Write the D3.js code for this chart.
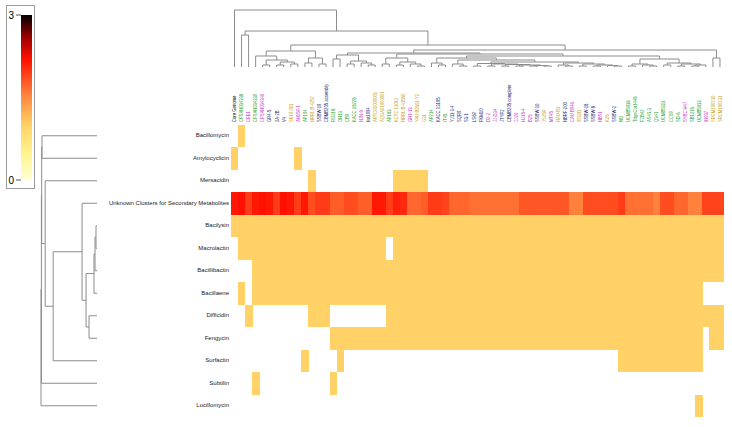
<!DOCTYPE html>
<html>
<head>
<meta charset="utf-8">
<script src="https://cdn.jsdelivr.net/npm/d3@7"></script>
<style>
  body { margin: 0; background: #fff; }
  text { font-family: "Liberation Sans", Arial, sans-serif; }
  .dendro { fill: none; stroke: #8c8c8c; stroke-width: 1; }
</style>
</head>
<body>
<div id="wrapper"></div>
<script>
// data
const rowNames = [
  "Bacillomycin", "Amylocyclicin", "Mersacidin", "Unknown Clusters for Secondary Metabolites",
  "Bacilysin", "Macrolactin", "Bacillibactin", "Bacillaene", "Difficidin",
  "Fengycin", "Surfactin", "Subtilin", "Locillomycin"
]
const colNames = [
  "Core Genome", "CFSAN034338", "CEE1", "CFSAN034339", "CFSAN034340", "GR4-5", "2A-2B", "V4",
  "SK19.001", "AH159-1", "AP194", "NRRL B-4257", "SSBW-19", "CBMB205 assembly", "RO218", "OH13",
  "CB9", "KACC 18228", "NJN-6", "kst1994", "ARTO01000001", "AQGA01000001", "AP183", "KCTC 13012",
  "NRRL B-41580", "GH1-13", "YAU B9601-Y2", "G31", "AP214", "KACC 13105", "IT45", "YJ11-1-4",
  "SQR9", "S3-1", "LS69", "FKM10", "D2-2", "JJ-D34", "JTYP2", "CBMB205 complete", "ZJ20",
  "HJ18-4", "B25", "SSBW-10", "JS25R", "MT45", "NAU-B3", "NBRF-200", "CAU B946", "9912D",
  "SSBW-18", "SSBW-8", "NBS1", "K26", "SSBW-2", "W2", "UCMB5036", "TrigoCor1448", "FZB42",
  "AS43.3", "Q341", "UCMB5113", "CC09", "SD-6", "SYBC H47", "SB1216", "UCMB5033", "IN937",
  "SRCM100730", "SRCM100731"
]
// k = core, g / m / b / y = label colour groups
const colGroups = [
  "k","g","m","g","m","b","b","b","y","m","g","y","b","b","g","g","g","g","m","b",
  "y","y","g","y","y","m","y","y","g","b","g","b","b","b","b","b","m","m","b","b",
  "m","m","m","b","y","m","y","b","m","y","b","b","m","y","b","g","g","g","g","g",
  "g","g","g","g","m","g","g","m","y","y"
]
// column ranges where a cluster is present (value 1)
const presentRanges = [
  [[1, 1]],
  [[0, 0], [9, 9]],
  [[11, 11], [23, 27]],
  [],
  [[0, 69]],
  [[1, 21], [23, 69]],
  [[3, 69]],
  [[1, 1], [3, 66]],
  [[2, 2], [11, 13], [22, 69]],
  [[14, 66], [68, 69]],
  [[10, 10], [15, 15], [55, 66]],
  [[3, 3], [14, 14]],
  [[66, 66]]
]
const unknownRow = 3
const unknownValues = [
  2.15, 2.2, 1.95, 2.15, 2.2, 2.15, 1.95, 2.2, 2.15, 1.95,
  2.15, 1.85, 1.95, 1.95, 1.75, 1.75, 1.85, 1.85, 1.75, 1.75,
  2.15, 2.15, 1.95, 2.1, 2.05, 1.7, 1.7, 1.75, 1.95, 1.95,
  1.9, 1.7, 1.7, 1.7, 1.65, 1.65, 1.65, 1.65, 1.65, 1.65,
  1.65, 1.8, 1.8, 1.8, 1.8, 1.8, 1.8, 1.8, 1.55, 1.55,
  1.85, 1.85, 1.85, 1.85, 1.85, 1.95, 1.65, 1.65, 1.65, 1.65,
  1.55, 1.85, 1.85, 1.7, 1.7, 1.55, 1.55, 1.9, 1.9, 1.9
]
const legendStops = [0, 0.5, 1, 1.5, 2.2, 2.6, 3]
const legendColors = ["#FFFFD0", "#FFF38C", "#FFD166", "#FF8A40", "#FF1000", "#9A0000", "#000000"]
const legendTicks = [0, 3]
const groupColors = { k: "#000000", g: "#2CA02C", m: "#C23BC2", b: "#2B2F7A", y: "#C9A227" }

// dendrograms: [left, right, height]
const rowTree = [[[[0, 1, 55.2],
  [2, [[3, [[[[4, 5, 1], 6, 2], 7, 3], [8, 9, 8], 11], 15], 10, 44], 52], 55.5], 11, 55.8], 12, 56.2]

const colLeft = [[3, [[4, 5, 2], [[6, 7, 2], [8, 9, 3], 5], 7], 11], [[10, 11, 4], [12, 13, 3], 9], 16]
const colMid = [[14, 15, 8], [[16, 17, 3], [18, [19, 20, 2], 4], 6], 12]
const colR1 = [[21, 22, 3], [[23, 24, 2], [25, [26, 27, 1], 3], 5], 9]
const colP = [[34, 35, 1], [[36, 37, 1], [[38, 39, 1], [[40, 41, 1], [[42, 43, 1], [44, 45, 1], 1.5], 2], 2.5], 3], 3.5]
const colQ = [[46, [47, 48, 1], 2], [[49, 50, 1], [[51, 52, 1], [53, [54, 55, 1], 1.5], 2], 3], 4]
const colR2a = [[28, [29, 30, 2], 4], [[31, [32, 33, 1], 3], [colP, colQ, 5], 7], 9]
const colR2b = [[[56, 57, 1], [58, [59, 60, 1], 2], 3], [[61, 62, 2], [[63, 64, 1], [[65, 66, 1], 67, 2], 3], 4], 8]
const colTree = [0, [[1, 2, 32],
  [colLeft, [[colMid, [colR1, [colR2a, colR2b, 11], 13], 14], [68, 69, 9], 17], 22], 36], 57]

// dimensions
const dims = {
  width: 732, height: 427,
  heatLeft: 231, heatRight: 723.5, heatTop: 124.5, heatBottom: 417,
}

const svg = d3.select("#wrapper").append("svg")
  .attr("width", dims.width)
  .attr("height", dims.height)

// scales
const xScale = d3.scaleBand()
  .domain(d3.range(colNames.length))
  .range([dims.heatLeft, dims.heatRight])
const yScale = d3.scaleBand()
  .domain(d3.range(rowNames.length))
  .range([dims.heatTop, dims.heatBottom])
const colorScale = d3.scaleLinear()
  .domain(legendStops)
  .range(legendColors)

// cells
const cells = []
rowNames.forEach((name, r) => {
  if (r == unknownRow) {
    unknownValues.forEach((v, c) => cells.push({ r, c, v }))
    return
  }
  presentRanges[r].forEach(([a, b]) => {
    d3.range(a, b + 1).forEach(c => cells.push({ r, c, v: 1 }))
  })
})

svg.append("g").selectAll("rect")
  .data(cells)
  .join("rect")
    .attr("x", d => xScale(d.c))
    .attr("y", d => yScale(d.r))
    .attr("width", xScale.bandwidth() + 0.4)
    .attr("height", yScale.bandwidth() + 0.4)
    .attr("fill", d => colorScale(d.v))
    .attr("shape-rendering", "crispEdges")

// row labels
svg.append("g").selectAll("text")
  .data(rowNames)
  .join("text")
    .attr("x", dims.heatLeft - 2)
    .attr("y", (d, i) => yScale(i) + yScale.bandwidth() / 2)
    .attr("text-anchor", "end")
    .attr("dominant-baseline", "middle")
    .attr("font-size", 6)
    .attr("fill", "#222")
    .text(d => d)

// column labels (squeezed along the text direction)
svg.append("g").selectAll("text")
  .data(colNames)
  .join("text")
    .attr("transform", (d, i) => `translate(${xScale(i) + xScale.bandwidth() / 2 + 1.8}, 122) rotate(-90) scale(0.84, 1)`)
    .attr("font-size", 5)
    .attr("fill", (d, i) => groupColors[colGroups[i]])
    .text(d => d)

// dendrograms
function drawTree(node, g, leafPos, hScale, vertical) {
  if (typeof node == "number") return { pos: leafPos(node), h: 0 }
  const l = drawTree(node[0], g, leafPos, hScale, vertical)
  const r = drawTree(node[1], g, leafPos, hScale, vertical)
  const h = node[2]
  const d = vertical
    ? `M${l.pos},${hScale(l.h)}V${hScale(h)}H${r.pos}V${hScale(r.h)}`
    : `M${hScale(l.h)},${l.pos}H${hScale(h)}V${r.pos}H${hScale(r.h)}`
  g.append("path").attr("class", "dendro").attr("d", d)
  return { pos: (l.pos + r.pos) / 2, h }
}

const colHeight = d3.scaleLinear().domain([0, 57]).range([67, 10])
drawTree(colTree, svg.append("g"), i => xScale(i) + xScale.bandwidth() / 2, colHeight, true)

const rowHeight = d3.scaleLinear().domain([0, 56.2]).range([97, 41])
drawTree(rowTree, svg.append("g"), i => yScale(i) + yScale.bandwidth() / 2, rowHeight, false)

// legend
const legend = svg.append("g")
legend.append("rect")
  .attr("x", 6.5).attr("y", 5.5)
  .attr("width", 28).attr("height", 183)
  .attr("fill", "none").attr("stroke", "#9a9a9a")
const grad = svg.append("defs").append("linearGradient")
  .attr("id", "legend-grad")
  .attr("x1", 0).attr("x2", 0).attr("y1", 1).attr("y2", 0)
const legendScale = d3.scaleLinear().domain([0, 3]).range([180, 15])
d3.range(0, 3.01, 0.1).forEach(v => {
  grad.append("stop").attr("offset", v / 3).attr("stop-color", colorScale(v))
})
legend.append("rect")
  .attr("x", 21).attr("y", legendScale(3))
  .attr("width", 11).attr("height", legendScale(0) - legendScale(3))
  .attr("fill", "url(#legend-grad)")
legend.selectAll(".tick-line")
  .data(legendTicks)
  .join("line")
    .attr("x1", 16).attr("x2", 21)
    .attr("y1", d => legendScale(d)).attr("y2", d => legendScale(d))
    .attr("stroke", "#555")
legend.selectAll(".tick-label")
  .data(legendTicks)
  .join("text")
    .attr("x", 8.5)
    .attr("y", d => legendScale(d) + 3.5)
    .attr("font-size", 10)
    .attr("fill", "#000")
    .text(d => d)
</script>
</body>
</html>
